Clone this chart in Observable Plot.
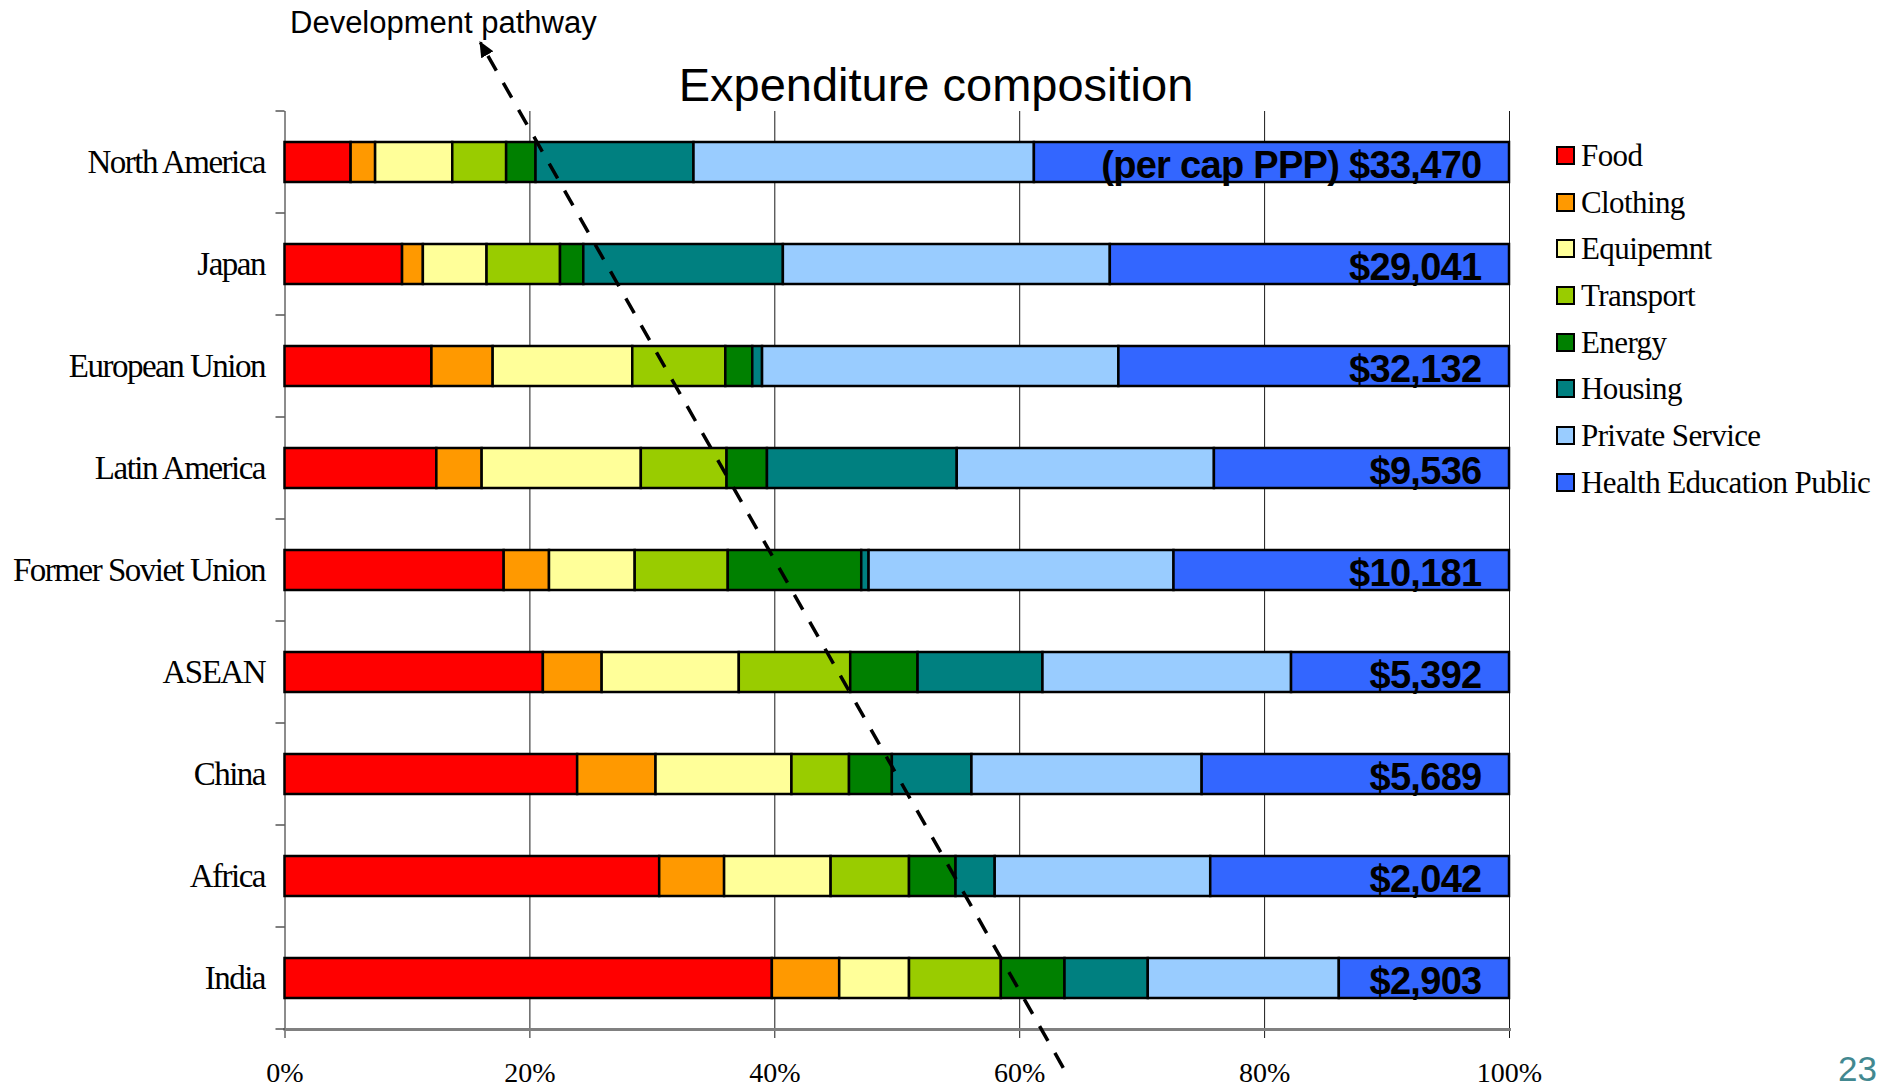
<!DOCTYPE html>
<html>
<head>
<meta charset="utf-8">
<script src="https://cdn.jsdelivr.net/npm/d3@7"></script>
<script src="https://cdn.jsdelivr.net/npm/@observablehq/plot@0.6"></script>
<style>
  html, body { margin: 0; padding: 0; background: #fff; }
  #page { position: relative; width: 1893px; height: 1088px; overflow: hidden; background: #fff; }
  #page svg { position: absolute; left: 0; top: 0; }
  .overlay { position: absolute; white-space: nowrap; line-height: 1; color: #000; }
  #title { left: 936px; top: 57px; transform: translateX(-50%); font: 47px "Liberation Sans", Arial, sans-serif; }
  #pathway-label { left: 290px; top: 5px; font: 31px "Liberation Sans", Arial, sans-serif; }
  #legend { position: absolute; left: 1556px; top: 132px; }
  .legend-row { display: flex; align-items: center; height: 46.7px; }
  .legend-swatch { width: 19px; height: 19px; box-sizing: border-box; border: 2.5px solid #000; margin-right: 6px; }
  .legend-text { font: 31px "Liberation Serif", "Times New Roman", serif; letter-spacing: -0.6px; line-height: 1; }
  #page-number { right: 16px; top: 1049px; font: 35px "Liberation Sans", Arial, sans-serif; color: #428890; }
  g[aria-label="y-axis tick label"] text { letter-spacing: -1.5px; }
  g.income-labels text { letter-spacing: -0.7px; }
</style>
</head>
<body>
<div id="page">
  <div id="title" class="overlay">Expenditure composition</div>
  <div id="pathway-label" class="overlay">Development pathway</div>
  <div id="legend"></div>
  <div id="page-number" class="overlay">23</div>
</div>
<script>
// Regions, top to bottom
const regions = ["North America", "Japan", "European Union", "Latin America", "Former Soviet Union", "ASEAN", "China", "Africa", "India"];

// Expenditure categories, stacked left to right
const categories = ["Food", "Clothing", "Equipemnt", "Transport", "Energy", "Housing", "Private Service", "Health Education Public"];
const categoryColors = ["#ff0000", "#ff9900", "#ffff99", "#99cc00", "#008000", "#008080", "#99ccff", "#3366ff"];

// Share of expenditure (%) per region, in the order of `regions`
const food                  = [5.4, 9.6, 12.0, 12.4, 17.9, 21.1, 23.9, 30.6, 39.8];
const clothing              = [2.0, 1.7, 5.0, 3.7, 3.7, 4.8, 6.4, 5.3, 5.5];
const equipment             = [6.3, 5.2, 11.4, 13.0, 7.0, 11.2, 11.1, 8.7, 5.7];
const transport             = [4.4, 6.0, 7.6, 7.0, 7.6, 9.1, 4.7, 6.4, 7.5];
const energy                = [2.4, 1.9, 2.2, 3.3, 10.9, 5.5, 3.5, 3.8, 5.2];
const housing               = [12.9, 16.3, 0.8, 15.5, 0.6, 10.2, 6.5, 3.2, 6.8];
const privateService        = [27.8, 26.7, 29.1, 21.0, 24.9, 20.3, 18.8, 17.6, 15.6];
const healthEducationPublic = [38.8, 32.6, 31.9, 24.1, 27.4, 17.8, 25.1, 24.4, 13.9];

// Income per capita (PPP) shown in each bar
const incomeLabels = ["(per cap PPP) $33,470", "$29,041", "$32,132", "$9,536", "$10,181", "$5,392", "$5,689", "$2,042", "$2,903"];

// Percentage axis ticks
const xTicks = [0, 20, 40, 60, 80, 100];

// Development pathway arrow: share (%) and row position (0 = first row, in row steps)
const pathwayShare = [63.6, 16.0];
const pathwayRow = [8.88, -1.17];

const series = [food, clothing, equipment, transport, energy, housing, privateService, healthEducationPublic];
const table = regions.flatMap((region, i) =>
  categories.map((category, j) => ({region, category, share: series[j][i]}))
);

const chart = Plot.plot({
  width: 1893,
  height: 1088,
  marginTop: 111,
  marginBottom: 59,
  marginLeft: 284.5,
  marginRight: 384,
  style: {background: "white", color: "#000", fontFamily: "Liberation Serif, Times New Roman, serif", overflow: "visible"},
  x: {domain: [0, 100]},
  y: {domain: regions, paddingInner: 0.608, paddingOuter: 0.304},
  color: {domain: categories, range: categoryColors},
  marks: [
    Plot.ruleX(xTicks, {stroke: "#1a1a1a", strokeWidth: 1, insetBottom: -9}),
    Plot.frame({anchor: "bottom", stroke: "#808080", strokeWidth: 3}),
    Plot.barX(table, {x: "share", y: "region", fill: "category", stroke: "#000", strokeWidth: 2.5}),
    Plot.text(incomeLabels, {
      x: 100,
      y: (d, i) => regions[i],
      text: d => d,
      textAnchor: "end",
      dx: -28,
      dy: 3,
      fontSize: 38,
      fontWeight: "bold",
      fontFamily: "Liberation Sans, Arial, sans-serif",
      fill: "#000",
      className: "income-labels"
    }),
    Plot.axisX({ticks: xTicks, tickFormat: d => d + "%", tickSize: 0, tickPadding: 33, fontSize: 28, fontFamily: "Liberation Serif, serif", label: null}),
    Plot.axisY({tickSize: 0, tickPadding: 20, fontSize: 33, fontFamily: "Liberation Serif, serif", label: null})
  ]
});

document.getElementById("page").prepend(chart);

// Band-boundary ticks on the region axis and the development pathway arrow
const svg = d3.select(chart.tagName.toLowerCase() === "svg" ? chart : chart.querySelector("svg"));
const xs = chart.scale("x");
const ys = chart.scale("y");
const step = ys.apply(regions[1]) - ys.apply(regions[0]);
const bandwidth = ys.bandwidth != null ? ys.bandwidth : step * (1 - 0.608);
const rowCentre = r => ys.apply(regions[0]) + bandwidth / 2 + r * step;
const x0 = xs.apply(0);

svg.append("g")
  .attr("stroke", "#000")
  .attr("stroke-width", 1)
  .selectAll("line")
  .data(d3.range(regions.length + 1))
  .join("line")
  .attr("x1", x0 - 9)
  .attr("x2", x0)
  .attr("y1", i => rowCentre(i - 0.5))
  .attr("y2", i => rowCentre(i - 0.5));

svg.append("defs")
  .append("marker")
  .attr("id", "pathway-head")
  .attr("viewBox", "0 0 16 14")
  .attr("refX", 14)
  .attr("refY", 7)
  .attr("markerUnits", "userSpaceOnUse")
  .attr("markerWidth", 16)
  .attr("markerHeight", 14)
  .attr("orient", "auto")
  .append("path")
  .attr("d", "M0,0L16,7L0,14Z")
  .attr("fill", "#000");

const pathwayPoints = pathwayShare.map((s, i) => [xs.apply(s), rowCentre(pathwayRow[i])]);
svg.append("path")
  .attr("d", d3.line()(pathwayPoints))
  .attr("fill", "none")
  .attr("stroke", "#000")
  .attr("stroke-width", 3.5)
  .attr("stroke-dasharray", "17,14")
  .attr("marker-end", "url(#pathway-head)");

// Legend
const legend = d3.select("#legend");
categories.forEach((c, i) => {
  const row = legend.append("div").attr("class", "legend-row");
  row.append("div").attr("class", "legend-swatch").style("background", categoryColors[i]);
  row.append("div").attr("class", "legend-text").text(c);
});
</script>
</body>
</html>
